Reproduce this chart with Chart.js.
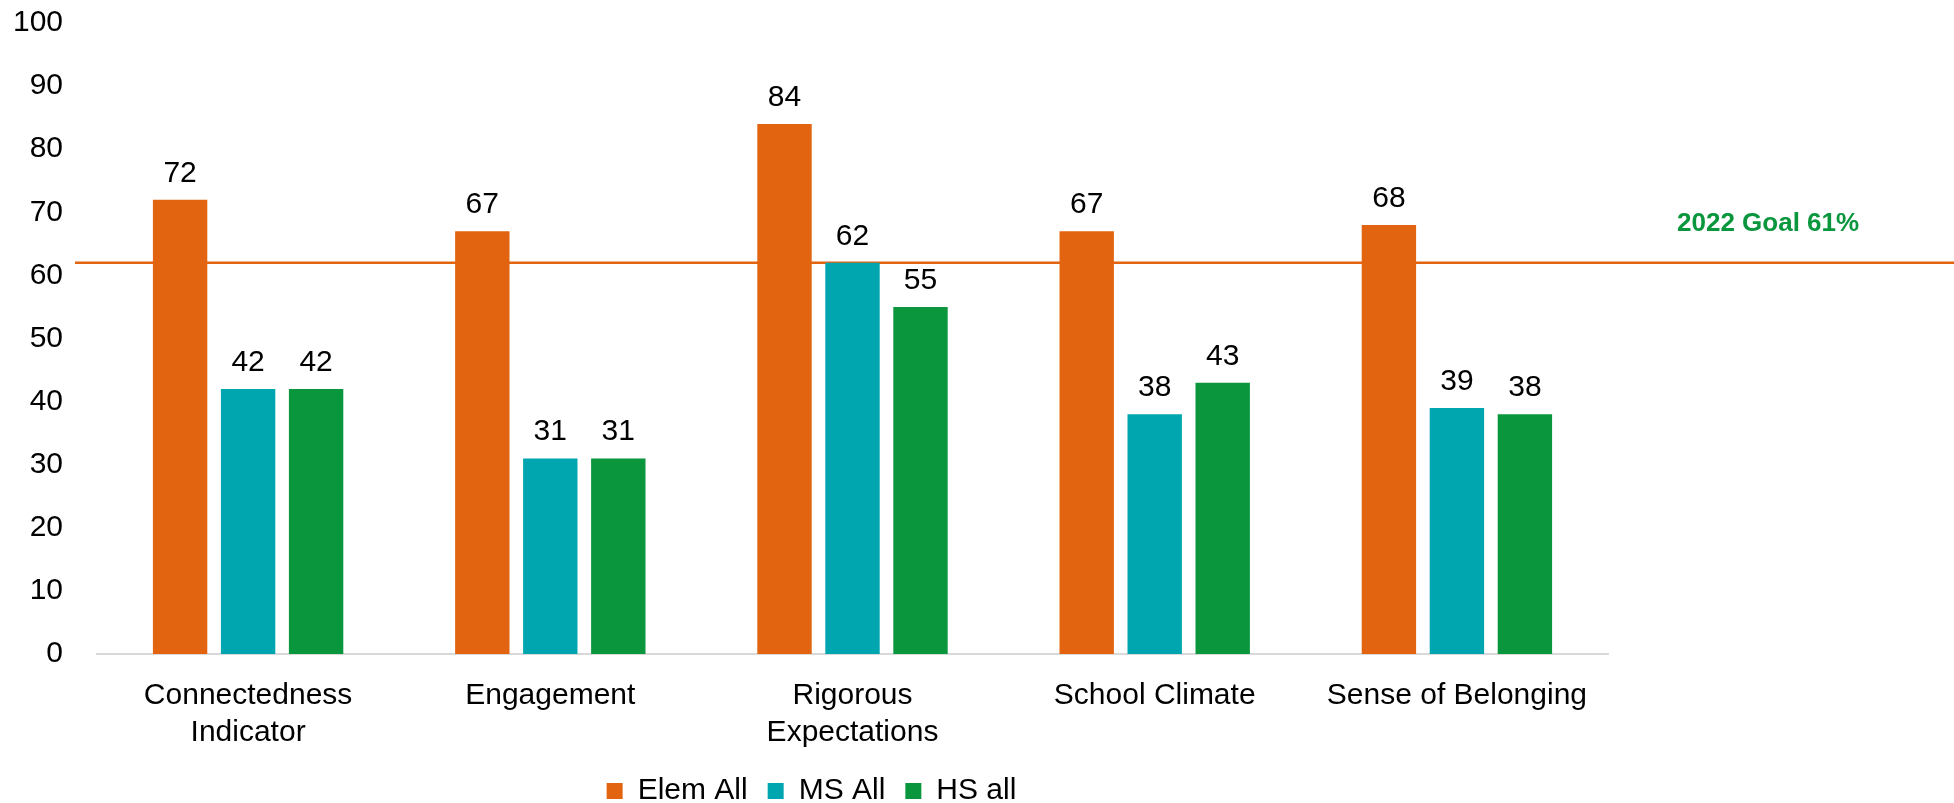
<!DOCTYPE html>
<html>
<head>
<meta charset="utf-8">
<script src="https://cdn.jsdelivr.net/npm/chart.js@4.4.1/dist/chart.umd.min.js"></script>
<style>
  html, body { margin: 0; padding: 0; background: #fff; }
  #wrap { width: 1954px; height: 803px; }
</style>
</head>
<body>
<div id="wrap"><canvas id="chart"></canvas></div>
<script>
// Categories and series
const categories = [['Connectedness', 'Indicator'], 'Engagement', ['Rigorous', 'Expectations'], 'School Climate', 'Sense of Belonging'];
const elemAll = [72, 67, 84, 67, 68];
const msAll = [42, 31, 62, 38, 39];
const hsAll = [42, 31, 55, 43, 38];
const yTicks = [0, 10, 20, 30, 40, 50, 60, 70, 80, 90, 100];

// Goal line
const goalValue = 62;
const goalLabel = '2022 Goal 61%';

const ORANGE = '#E36410';
const TEAL = '#00A6AF';
const GREEN = '#0A963D';

// Goal line drawn behind the bars, with its label
const goalPlugin = {
    id: 'goal',
    beforeDatasetsDraw(chart) {
        const ctx = chart.ctx;
        const y = chart.scales.y.getPixelForValue(goalValue);
        ctx.save();
        ctx.strokeStyle = ORANGE;
        ctx.lineWidth = 2.5;
        ctx.beginPath();
        ctx.moveTo(75, y);
        ctx.lineTo(chart.width, y);
        ctx.stroke();
        ctx.fillStyle = GREEN;
        ctx.font = 'bold 26px "Liberation Sans", Arial, sans-serif';
        ctx.textAlign = 'left';
        ctx.textBaseline = 'middle';
        ctx.fillText(goalLabel, 1677, y - 39);
        ctx.restore();
    }
};

// Value labels above bars
const valuePlugin = {
    id: 'values',
    afterDatasetsDraw(chart) {
        const ctx = chart.ctx;
        ctx.save();
        ctx.fillStyle = '#000';
        ctx.font = '30px "Liberation Sans", Arial, sans-serif';
        ctx.textAlign = 'center';
        ctx.textBaseline = 'alphabetic';
        chart.data.datasets.forEach((ds, i) => {
            chart.getDatasetMeta(i).data.forEach((bar, j) => {
                ctx.fillText(ds.data[j], bar.x, bar.y - 18);
            });
        });
        ctx.restore();
    }
};

const ctx = document.getElementById('chart').getContext('2d');
new Chart(ctx, {
    type: 'bar',
    data: {
        labels: categories,
        datasets: [
            { label: 'Elem All', data: elemAll, backgroundColor: ORANGE },
            { label: 'MS All', data: msAll, backgroundColor: TEAL },
            { label: 'HS all', data: hsAll, backgroundColor: GREEN }
        ]
    },
    options: {
        responsive: true,
        maintainAspectRatio: false,
        animation: false,
        devicePixelRatio: 1,
        categoryPercentage: 0.675,
        barPercentage: 0.8,
        layout: { padding: { left: 15, right: 346, top: 23, bottom: -13 } },
        plugins: {
            tooltip: { enabled: false },
            legend: {
                position: 'bottom',
                labels: {
                    boxWidth: 16,
                    boxHeight: 16,
                    padding: 20,
                    color: '#000',
                    font: { size: 30, family: '"Liberation Sans", Arial, sans-serif' }
                }
            }
        },
        scales: {
            x: {
                grid: { display: false, drawTicks: false },
                border: { display: true, color: '#D9D9D9', width: 2 },
                ticks: {
                    color: '#000',
                    padding: 23,
                    maxRotation: 0,
                    autoSkip: false,
                    font: { size: 30, family: '"Liberation Sans", Arial, sans-serif', lineHeight: 1.23 }
                },
                afterFit(scale) {
                    scale.height = 102;
                    scale.paddingLeft = 0;
                    scale.paddingRight = 0;
                }
            },
            y: {
                min: 0,
                max: 100,
                afterBuildTicks(scale) {
                    scale.ticks = yTicks.map(v => ({ value: v }));
                },
                grid: { display: false, drawTicks: false },
                border: { display: false },
                ticks: {
                    color: '#000',
                    padding: 34,
                    font: { size: 30, family: '"Liberation Sans", Arial, sans-serif' }
                },
                afterFit(scale) {
                    scale.width = 82;
                    scale.paddingTop = 0;
                    scale.paddingBottom = 0;
                }
            }
        }
    },
    plugins: [goalPlugin, valuePlugin]
});
</script>
</body>
</html>
